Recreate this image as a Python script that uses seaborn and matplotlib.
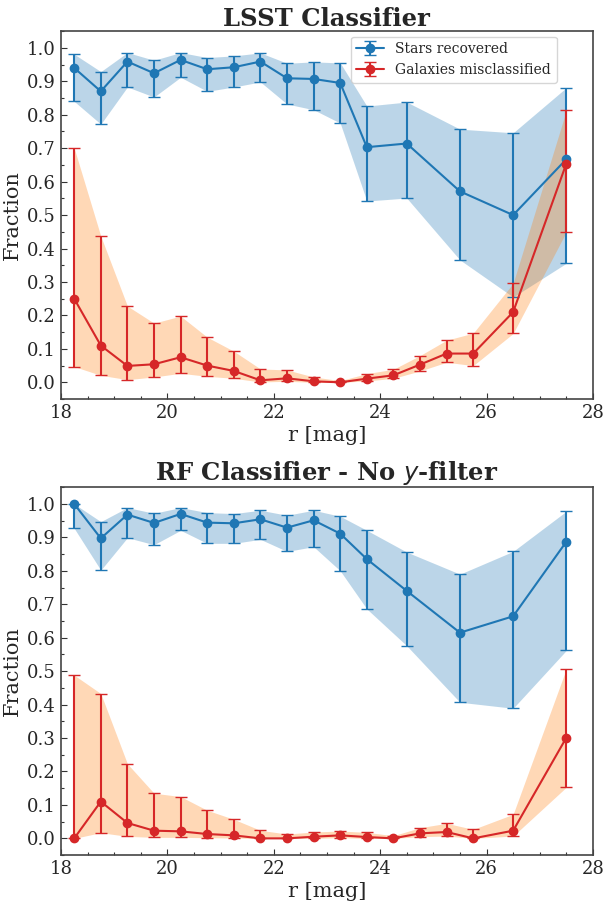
import numpy as np
import pandas as pd
import seaborn as sns
import matplotlib
matplotlib.use("Agg")
import matplotlib.pyplot as plt
from matplotlib.ticker import MultipleLocator

# magnitude bins
star_mag = [18.25, 18.75, 19.25, 19.75, 20.25, 20.75, 21.25, 21.75, 22.25,
            22.75, 23.25, 23.75, 24.5, 25.5, 26.5, 27.5]
gal_mag = [18.25, 18.75, 19.25, 19.75, 20.25, 20.75, 21.25, 21.75, 22.25,
           22.75, 23.25, 23.75, 24.25, 24.75, 25.25, 25.75, 26.5, 27.5]

# LSST classifier
lsst_star = [0.940, 0.870, 0.959, 0.924, 0.964, 0.936, 0.942, 0.959, 0.909,
             0.907, 0.895, 0.703, 0.714, 0.571, 0.500, 0.667]
lsst_star_hi = [0.981, 0.929, 0.986, 0.963, 0.986, 0.971, 0.976, 0.985, 0.954,
                0.958, 0.955, 0.826, 0.838, 0.757, 0.746, 0.881]
lsst_star_lo = [0.840, 0.772, 0.883, 0.853, 0.912, 0.870, 0.883, 0.898, 0.832,
                0.815, 0.775, 0.542, 0.551, 0.366, 0.255, 0.356]
lsst_gal = [0.250, 0.110, 0.049, 0.054, 0.075, 0.050, 0.034, 0.006, 0.012,
            0.003, 0.000, 0.011, 0.021, 0.053, 0.086, 0.086, 0.210, 0.654]
lsst_gal_hi = [0.700, 0.437, 0.228, 0.177, 0.198, 0.135, 0.093, 0.040, 0.037,
               0.016, 0.005, 0.026, 0.039, 0.080, 0.126, 0.147, 0.296, 0.813]
lsst_gal_lo = [0.047, 0.021, 0.008, 0.016, 0.027, 0.018, 0.012, 0.001, 0.003,
               0.000, 0.000, 0.004, 0.012, 0.034, 0.060, 0.050, 0.146, 0.450]

# RF classifier, no y-filter
rf_star = [1.000, 0.897, 0.968, 0.943, 0.970, 0.944, 0.942, 0.954, 0.929,
           0.951, 0.911, 0.835, 0.740, 0.615, 0.664, 0.887]
rf_star_hi = [1.000, 0.947, 0.989, 0.972, 0.989, 0.974, 0.971, 0.981, 0.966,
              0.981, 0.963, 0.921, 0.856, 0.790, 0.858, 0.978]
rf_star_lo = [0.927, 0.802, 0.899, 0.878, 0.921, 0.882, 0.882, 0.894, 0.858,
              0.872, 0.800, 0.686, 0.576, 0.407, 0.389, 0.562]
rf_gal = [0.000, 0.110, 0.046, 0.023, 0.021, 0.013, 0.009, 0.000, 0.000,
          0.005, 0.009, 0.004, 0.000, 0.015, 0.019, 0.000, 0.023, 0.301]
rf_gal_hi = [0.488, 0.433, 0.223, 0.135, 0.125, 0.084, 0.057, 0.024, 0.013,
             0.019, 0.022, 0.018, 0.008, 0.032, 0.045, 0.027, 0.072, 0.507]
rf_gal_lo = [0.000, 0.017, 0.006, 0.003, 0.003, 0.002, 0.001, 0.000, 0.000,
             0.000, 0.002, 0.000, 0.000, 0.005, 0.007, 0.000, 0.007, 0.153]

titles = ["LSST Classifier", "RF Classifier - No $y$-filter"]

sns.set_style("ticks")
plt.rcParams["font.family"] = ["DejaVu Serif"]
plt.rcParams["mathtext.fontset"] = "dejavusans"

pal = sns.color_palette("tab10")
blue, orange, red = pal[0], pal[1], pal[3]

fig = plt.figure(figsize=(6.03, 9.02), dpi=100)
axes = [fig.add_axes([0.1010, 0.5576, 0.8823, 0.4079]),
        fig.add_axes([0.1010, 0.0520, 0.8823, 0.4079])]

panels = [
    (lsst_star, lsst_star_lo, lsst_star_hi, lsst_gal, lsst_gal_lo, lsst_gal_hi),
    (rf_star, rf_star_lo, rf_star_hi, rf_gal, rf_gal_lo, rf_gal_hi),
]

for i, (ax, data) in enumerate(zip(axes, panels)):
    s, s_lo, s_hi, g, g_lo, g_hi = [np.array(d) for d in data]
    stars = pd.DataFrame({"mag": star_mag, "frac": s, "lo": s_lo, "hi": s_hi})
    gals = pd.DataFrame({"mag": gal_mag, "frac": g, "lo": g_lo, "hi": g_hi})

    ax.fill_between(stars["mag"], stars["lo"], stars["hi"], color=blue,
                    alpha=0.3, lw=0)
    ax.fill_between(gals["mag"], gals["lo"], gals["hi"], color=orange,
                    alpha=0.3, lw=0)
    ax.errorbar(stars["mag"], stars["frac"],
                yerr=[stars["frac"] - stars["lo"], stars["hi"] - stars["frac"]],
                fmt="o-", color=blue, ms=6, lw=1.5, capsize=4,
                label="Stars recovered")
    ax.errorbar(gals["mag"], gals["frac"],
                yerr=[gals["frac"] - gals["lo"], gals["hi"] - gals["frac"]],
                fmt="o-", color=red, ms=6, lw=1.5, capsize=4,
                label="Galaxies misclassified")

    ax.set_xlim(18, 28)
    ax.set_ylim(-0.05, 1.05)
    ax.xaxis.set_major_locator(MultipleLocator(2))
    ax.xaxis.set_minor_locator(MultipleLocator(0.5))
    ax.yaxis.set_major_locator(MultipleLocator(0.1))
    ax.yaxis.set_minor_locator(MultipleLocator(0.05))
    ax.tick_params(which="both", direction="in", labelsize=13,
                   color="#333333", width=0.8)
    ax.tick_params(which="major", length=4)
    ax.tick_params(which="minor", length=2)
    for sp in ax.spines.values():
        sp.set_color("#444444")
        sp.set_linewidth(1.2)
    ax.set_xlabel("r [mag]", fontsize=15, labelpad=3)
    ax.set_ylabel("Fraction", fontsize=15)
    ax.set_title(titles[i], fontsize=17.5, fontweight="bold", pad=4)

axes[0].legend(loc="upper right", bbox_to_anchor=(0.942, 1.0), fontsize=10,
               borderaxespad=0.4, framealpha=0.8)

fig.savefig("out.png", dpi=100)
